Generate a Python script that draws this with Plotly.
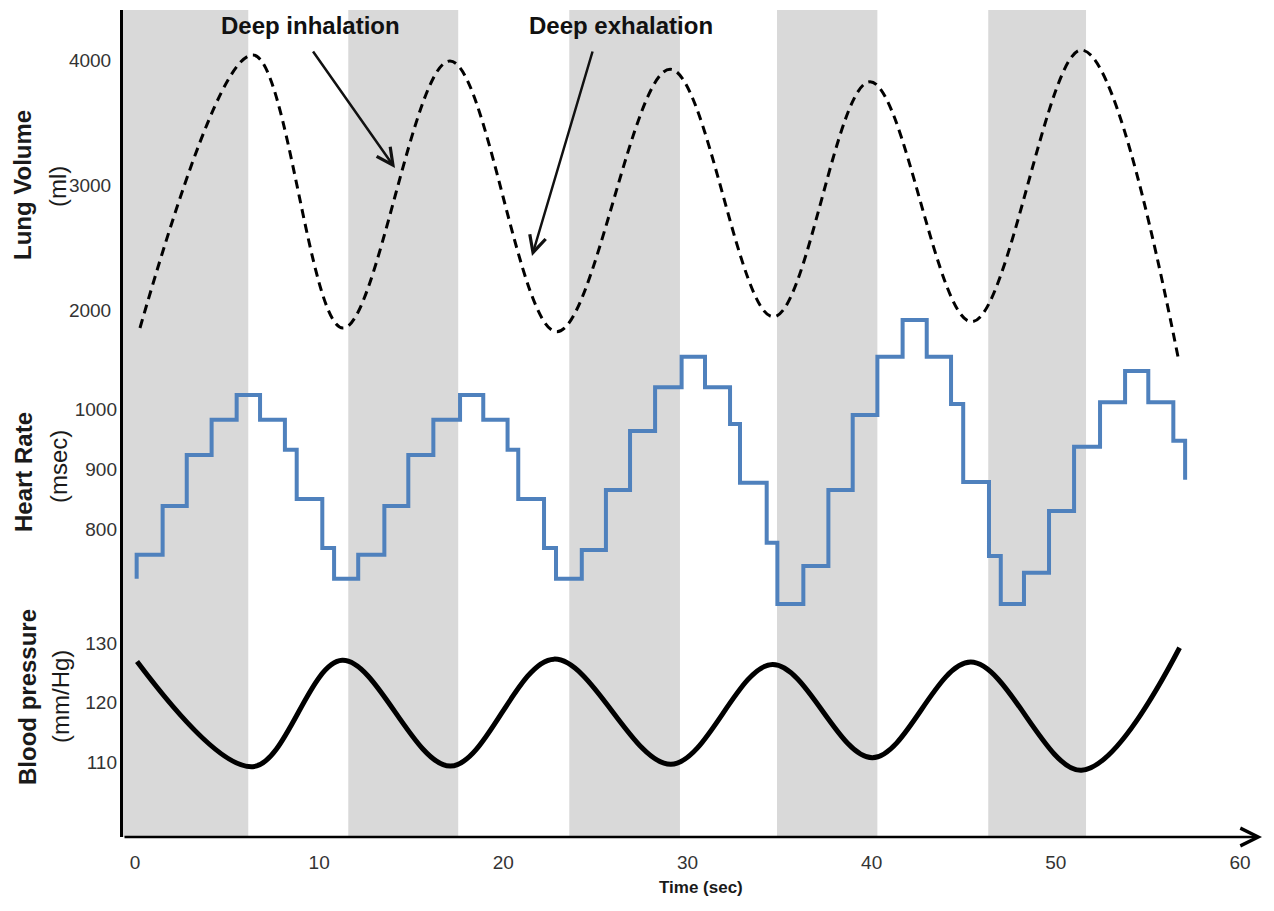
import plotly.graph_objects as go

# ---------------- data ----------------
lung_t = [0.27, 6.41, 11.29, 17.10, 22.90, 29.06, 34.66, 39.91, 45.43, 51.40, 56.65]
lung_ml = [1856, 4040, 1856, 3992, 1826, 3926, 1946, 3826, 1906, 4080, 1614]

hr_t = [0.09, 0.09, 1.50, 2.81, 4.16, 5.52, 6.79, 8.14, 8.78, 10.17, 10.81,
        12.12, 13.54, 14.84, 16.20, 17.65, 18.91, 20.23, 20.81, 22.21, 22.86,
        24.26, 25.57, 26.88, 28.24, 29.68, 30.95, 32.31, 32.85, 34.30, 34.88,
        36.29, 37.65, 38.97, 40.31, 41.68, 42.99, 44.31, 44.97, 46.37, 47.01,
        48.27, 49.63, 50.99, 52.40, 53.76, 55.02, 56.38, 57.02]
hr_ms = [718, 758, 839, 924, 983, 1024, 983, 933, 851, 769, 718,
         758, 839, 924, 983, 1024, 983, 933, 851, 769, 718,
         766, 866, 964, 1037, 1088, 1037, 976, 878, 778, 676,
         739, 866, 991, 1088, 1149, 1088, 1009, 879, 756, 676,
         728, 831, 938, 1012, 1064, 1012, 948, 883]

bp_t = [0.11, 6.40, 11.25, 17.13, 22.75, 29.10, 34.62, 40.04, 45.38, 51.39, 56.72]
bp_mmhg = [126.9, 109.3, 127.1, 109.4, 127.3, 109.7, 126.4, 110.8, 126.8, 108.7, 129.2]

# shaded (inhalation) periods, seconds
band_start = [-0.652, 11.58, 23.58, 34.86, 46.33]
band_end = [6.15, 17.55, 29.59, 40.31, 51.64]

x_ticks = [0, 10, 20, 30, 40, 50, 60]
lung_ticks = [2000, 3000, 4000]
hr_ticks = [800, 900, 1000]
bp_ticks = [110, 120, 130]

# ---------------- layout helpers ----------------
L, R, T, B = 123, 1262, 10, 837
W, H = 1274, 911


def px_x(px):
    return (px - L) / (R - L)


def px_y(py):
    return (B - py) / (B - T)


TICK_FONT = dict(family="Liberation Sans Narrow, Arial Narrow, Liberation Sans, Arial, sans-serif",
                 size=19, color="#333333")

fig = go.Figure()

fig.add_trace(go.Scatter(x=lung_t, y=lung_ml, mode="lines", yaxis="y",
                         line=dict(color="black", width=3, dash="9px,6px",
                                   shape="spline", smoothing=1.0),
                         hoverinfo="skip"))
fig.add_trace(go.Scatter(x=hr_t, y=hr_ms, mode="lines", yaxis="y2",
                         line=dict(color="#4F81BD", width=4, shape="hv"),
                         hoverinfo="skip"))
fig.add_trace(go.Scatter(x=bp_t, y=bp_mmhg, mode="lines", yaxis="y3",
                         line=dict(color="black", width=5, shape="spline", smoothing=1.0),
                         hoverinfo="skip"))

shapes = []
for s, e in zip(band_start, band_end):
    shapes.append(dict(type="rect", xref="x", yref="paper", x0=s, x1=e, y0=0, y1=1,
                       fillcolor="#D9D9D9", line=dict(width=0), layer="below"))

annotations = []
# x axis with arrow
annotations.append(dict(xref="paper", yref="paper", x=1.0, y=0.0, ax=-(R - L), ay=0,
                        axref="pixel", ayref="pixel", text="", showarrow=True,
                        arrowhead=5, arrowsize=1.4, arrowwidth=2.5, arrowcolor="black",
                        standoff=0, startstandoff=0))

# axis titles
TITLE_FONT = dict(family="Liberation Sans, Arial, sans-serif", size=24, color="#1a1a1a")
for txt, cx, cy in [("<b>Lung Volume</b>", 23, 185), ("(ml)", 58, 187),
                    ("<b>Heart Rate</b>", 23, 472), ("(msec)", 58, 467),
                    ("<b>Blood pressure</b>", 27, 697), ("(mm/Hg)", 60, 697)]:
    annotations.append(dict(xref="paper", yref="paper", x=px_x(cx), y=px_y(cy),
                            text=txt, showarrow=False, textangle=-90,
                            xanchor="center", yanchor="middle", font=TITLE_FONT))

annotations.append(dict(xref="paper", yref="paper", x=px_x(701), y=px_y(887),
                        text="<b>Time (sec)</b>", showarrow=False, xanchor="center",
                        yanchor="middle",
                        font=dict(family="Liberation Sans Narrow, Arial Narrow, Liberation Sans, sans-serif",
                                  size=17, color="#1a1a1a")))

# callouts
CALL_FONT = dict(family="Liberation Sans, Arial, sans-serif", size=24, color="#111111")
annotations.append(dict(xref="paper", yref="paper", x=px_x(310), y=px_y(26),
                        text="<b>Deep inhalation</b>", showarrow=False,
                        xanchor="center", yanchor="middle", font=CALL_FONT))
annotations.append(dict(xref="paper", yref="paper", x=px_x(621), y=px_y(26),
                        text="<b>Deep exhalation</b>", showarrow=False,
                        xanchor="center", yanchor="middle", font=CALL_FONT))
annotations.append(dict(xref="paper", yref="paper", x=px_x(395), y=px_y(168),
                        ax=312 - 395, ay=50 - 168, axref="pixel", ayref="pixel",
                        text="", showarrow=True, arrowhead=5, arrowsize=1.3,
                        arrowwidth=2.5, arrowcolor="#111111", standoff=0, startstandoff=0))
annotations.append(dict(xref="paper", yref="paper", x=px_x(532), y=px_y(256),
                        ax=593 - 532, ay=50 - 256, axref="pixel", ayref="pixel",
                        text="", showarrow=True, arrowhead=5, arrowsize=1.3,
                        arrowwidth=2.5, arrowcolor="#111111", standoff=0, startstandoff=0))


def lin_range(v1, p1, v2, p2):
    # value at pixel row -> axis range covering plot area
    per_px = (v1 - v2) / (p2 - p1)
    bottom = v2 - (B - p2) * per_px
    top = v1 + (p1 - T) * per_px
    return [bottom, top]


fig.update_layout(
    width=W, height=H,
    margin=dict(l=L, r=W - R, t=T, b=H - B, pad=0),
    plot_bgcolor="white", paper_bgcolor="white",
    showlegend=False,
    xaxis=dict(range=[(L - 135) / 18.4167, (R - 135) / 18.4167],
               tickvals=x_ticks, ticktext=[str(v) for v in x_ticks],
               showgrid=False, zeroline=False, showline=False, ticks="",
               tickfont=TICK_FONT, ticklabelstandoff=12),
    yaxis=dict(range=lin_range(4000, 60, 2000, 310), tickvals=lung_ticks,
               showgrid=False, zeroline=False, showline=True, linewidth=3,
               linecolor="black", ticks="", tickfont=TICK_FONT,
               ticklabelstandoff=5),
    yaxis2=dict(range=lin_range(1000, 409.5, 800, 529.5), tickvals=hr_ticks,
                overlaying="y", side="left", anchor="x",
                showgrid=False, zeroline=False, showline=False, ticks="",
                tickfont=TICK_FONT, ticklabelstandoff=5),
    yaxis3=dict(range=lin_range(130, 643, 110, 762.5), tickvals=bp_ticks,
                overlaying="y", side="left", anchor="x",
                showgrid=False, zeroline=False, showline=False, ticks="",
                tickfont=TICK_FONT, ticklabelstandoff=5),
    shapes=shapes,
    annotations=annotations,
)

fig.write_html("out.html")
